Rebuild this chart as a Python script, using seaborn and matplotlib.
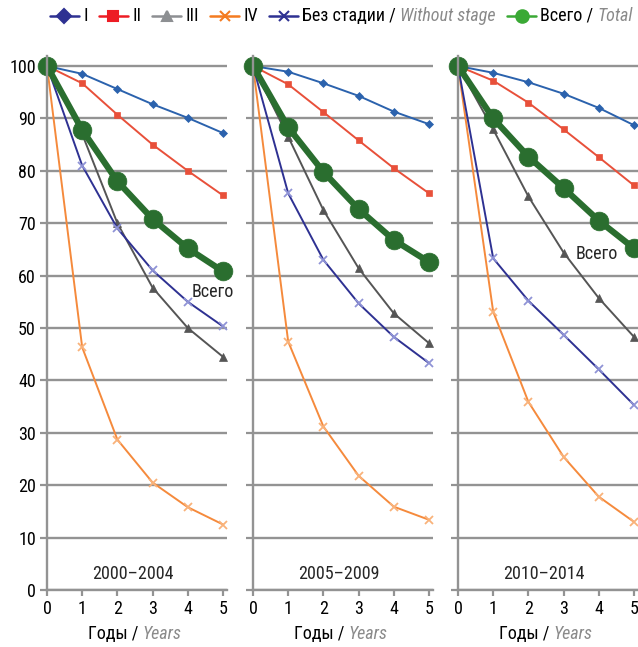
import matplotlib
matplotlib.use("Agg")
import matplotlib.pyplot as plt
import seaborn as sns
from matplotlib.lines import Line2D
from matplotlib.offsetbox import HPacker, TextArea, DrawingArea, AnnotationBbox, AnchoredOffsetbox

# --- data ---
years = [0, 1, 2, 3, 4, 5]
periods = ["2000–2004", "2005–2009", "2010–2014"]

stage_1 = [[100, 98.5, 95.6, 92.7, 90.1, 87.2],
           [100, 98.9, 96.7, 94.3, 91.3, 88.9],
           [100, 98.7, 96.9, 94.7, 92.0, 88.7]]
stage_2 = [[100, 96.7, 90.7, 85.0, 80.0, 75.3],
           [100, 96.5, 91.2, 85.8, 80.5, 75.7],
           [100, 97.2, 93.0, 87.9, 82.6, 77.2]]
stage_3 = [[100, 87.0, 70.0, 57.7, 50.0, 44.5],
           [100, 86.5, 72.5, 61.4, 52.8, 47.1],
           [100, 87.9, 75.1, 64.4, 55.7, 48.3]]
stage_4 = [[100, 46.3, 28.7, 20.5, 15.8, 12.5],
           [100, 47.4, 31.2, 21.8, 15.9, 13.4],
           [100, 53.1, 35.9, 25.4, 17.8, 13.0]]
no_stage = [[100, 81.0, 69.0, 61.0, 55.0, 50.3],
            [100, 75.7, 63.0, 54.7, 48.3, 43.3],
            [100, 63.3, 55.2, 48.7, 42.1, 35.3]]
total = [[100, 87.8, 78.0, 70.8, 65.2, 60.8],
         [100, 88.3, 79.8, 72.7, 66.8, 62.6],
         [100, 90.0, 82.7, 76.7, 70.5, 65.2]]

legend_labels = ["I", "II", "III", "IV", "Без стадии /", "Всего /"]
legend_italic = [None, None, None, None, "Without stage", "Total"]

sns.set_style("white")
plt.rcParams["font.family"] = ["Roboto Condensed", "PT Sans Narrow", "Fira Sans Condensed",
                               "Liberation Sans", "DejaVu Sans"]

# (data, line colour, marker, marker face, marker size, line width)
series = [
    (stage_1, "#2b62ad", "D", "#2b62ad", 4.5, 1.4),
    (stage_2, "#e8503a", "s", "#e8503a", 5, 1.4),
    (stage_3, "#555555", "^", "#555555", 5.5, 1.4),
    (stage_4, "#f58a3c", "x", "#f9b27a", 6, 1.4),
    (no_stage, "#2e3192", "x", "#8f93d6", 6, 1.4),
    (total, "#2a6e2f", "o", "#2a6e2f", 13.5, 4.5),
]
legend_style = [("#2e3192", "D"), ("#ed1c24", "s"), ("#8d8f92", "^"),
                ("#f47b20", "x"), ("#2e3192", "x"), ("#3aa935", "o")]

W, H = 638, 647
fig = plt.figure(figsize=(W / 100, H / 100), dpi=100)
grid_col = "#939393"
lefts = [47, 253, 458]
unit = 35.2
fs = 13

for p, left in enumerate(lefts):
    ax = fig.add_axes([left / W, (H - 590) / H, unit * 5.1 / W, 524 * 1.02 / H])
    for data, col, mk, mfc, ms, lw in series:
        sns.lineplot(x=years, y=data[p], ax=ax, color=col, marker=mk,
                     markerfacecolor=mfc, markeredgecolor=mfc, markersize=ms,
                     lw=lw, mew=1.3 if mk == "x" else 0.5, clip_on=False,
                     legend=False)
    ax.set_xlim(0, 5.1)
    ax.set_ylim(0, 102)
    ax.set_xticks(years)
    ax.set_yticks(range(0, 101, 10))
    ax.yaxis.grid(True, color=grid_col, lw=1.7)
    ax.xaxis.grid(False)
    ax.set_axisbelow(True)
    for s in ["top", "right"]:
        ax.spines[s].set_visible(False)
    for s in ["left", "bottom"]:
        ax.spines[s].set_color(grid_col)
        ax.spines[s].set_linewidth(1.7)
    ax.tick_params(axis="both", colors=grid_col, labelcolor="black",
                   labelsize=fs, length=4, width=1.6, direction="out", pad=3)
    ax.tick_params(axis="y", length=5, left=True)
    ax.tick_params(axis="x", bottom=True)
    if p > 0:
        ax.tick_params(labelleft=False)
    ax.set_xlabel("")
    ax.set_ylabel("")
    ax.text(2.45, 3, periods[p], ha="center", va="center", fontsize=fs)

    # x axis title with italic English part
    xl = HPacker(children=[TextArea("Годы /", textprops=dict(fontsize=fs, color="black")),
                           TextArea("Years", textprops=dict(fontsize=fs, color="#8a8a8a", style="italic"))],
                 align="baseline", pad=0, sep=3)
    ax.add_artist(AnnotationBbox(xl, (2.5, 0), xycoords="data", xybox=(0, -32),
                                 boxcoords="offset points", frameon=False,
                                 box_alignment=(0.5, 0.5), pad=0,
                                 annotation_clip=False))

    if p == 0:
        ax.text(4.72, 56.9, "Всего", ha="center", va="center", fontsize=fs)
    if p == 2:
        ax.text(3.95, 64.1, "Всего", ha="center", va="center", fontsize=fs)

# custom legend across the top
items = []
for (col, mk), lab, it in zip(legend_style, legend_labels, legend_italic):
    da = DrawingArea(21, 10, 0, 0)
    da.add_artist(Line2D([0, 21], [5, 5], color=col, lw=1.8))
    da.add_artist(Line2D([10.5], [5], color=col, marker=mk,
                         markersize=9 if mk in "o" else 7, mew=1.5))
    parts = [da, TextArea(lab, textprops=dict(fontsize=fs, color="black"))]
    if it:
        parts.append(TextArea(it, textprops=dict(fontsize=fs, color="#8a8a8a", style="italic")))
    items.append(HPacker(children=parts, align="center", pad=0, sep=3))
leg = HPacker(children=items, align="center", pad=0, sep=8)
fig.add_artist(AnchoredOffsetbox(loc="center right", child=leg, frameon=False, pad=0,
                                 borderpad=0, bbox_to_anchor=(633 / W, 1 - 16 / H),
                                 bbox_transform=fig.transFigure))

fig.savefig("out.png", dpi=100)
